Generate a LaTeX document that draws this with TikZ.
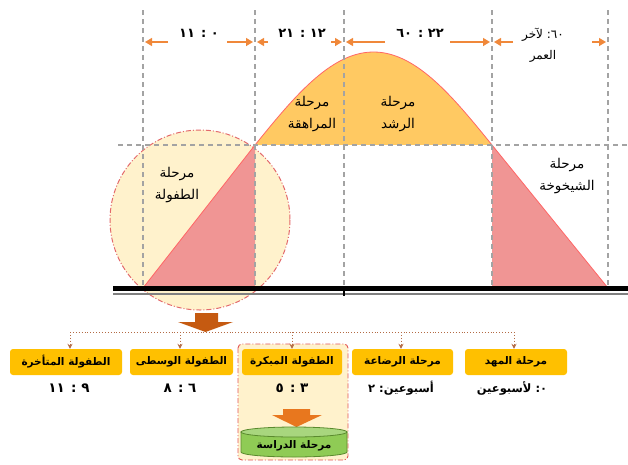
\documentclass[tikz,border=0pt]{standalone}
\usepackage{fontspec}
\TeXXeTstate=1
\newfontfamily\ar[Script=Arabic]{DejaVu Sans}
\usetikzlibrary{arrows.meta}
\definecolor{cream}{HTML}{FFF2CC}
\definecolor{circred}{HTML}{E36A6C}
\definecolor{pinkf}{HTML}{F09594}
\definecolor{yell}{HTML}{FFC962}
\definecolor{curvered}{HTML}{FF6666}
\definecolor{dgrey}{HTML}{A3A3A3}
\definecolor{oarrc}{HTML}{F0883A}
\definecolor{boxy}{HTML}{FFC000}
\definecolor{brownd}{HTML}{B36B45}
\definecolor{bigarr}{HTML}{C55A11}
\definecolor{smallarr}{HTML}{E8771E}
\definecolor{framered}{HTML}{E25555}
\definecolor{cylg}{HTML}{8FCB55}
\definecolor{cyltop}{HTML}{A8D67E}
\definecolor{cylb}{HTML}{5A8A2E}
\tikzset{
  gdash/.style={draw=dgrey,line width=1.3pt,dash pattern=on 5pt off 4pt},
  oarr/.style={draw=oarrc,line width=1.4pt,-{Triangle[length=7pt,width=8pt]}},
  toplab/.style={font=\ar\bfseries\fontsize{13}{15}\selectfont,inner sep=1pt},
  stagelab/.style={font=\ar\fontsize{13.5}{22}\selectfont,align=center,inner sep=0pt},
  ybox/.style={fill=boxy,rounded corners=3pt,minimum height=26pt,inner sep=0pt,
    font=\ar\bfseries\fontsize{10.5}{12}\selectfont},
  agelab/.style={font=\ar\bfseries\fontsize{13.5}{15}\selectfont,inner sep=0pt},
  agelabw/.style={font=\ar\bfseries\fontsize{11.5}{14}\selectfont,inner sep=0pt},
  dotc/.style={draw=brownd,line width=0.9pt,dotted},
  dotarr/.style={draw=brownd,line width=0.9pt,dotted,-{Stealth[length=5pt,width=5pt,fill=brownd]}},
}
\begin{document}
\begin{tikzpicture}[x=1pt,y=-1pt]
\useasboundingbox (0,0) rectangle (628,464);
% circle
\draw[fill=cream,draw=circred,line width=1pt,dash pattern=on 5pt off 2pt on 1pt off 2pt] (200,220) circle (90);
% pink regions
\fill[pinkf] (143,288) -- (255,145) -- (255,288) -- cycle;
\fill[pinkf] (492,145) -- (608,288) -- (492,288) -- cycle;
% yellow hump
\fill[yell] plot[domain=0:1,samples=80] ({255+237*\x},{145-93*sin(180*\x)}) -- cycle;
\draw[curvered,line width=0.8pt] (143,288) -- (255,145) plot[domain=0:1,samples=80] ({255+237*\x},{145-93*sin(180*\x)}) -- (608,288);
% dashed guides
\coordinate (v1t) at (143,10); \coordinate (v1b) at (143,288);
\coordinate (v2t) at (255,10); \coordinate (v2b) at (255,288);
\coordinate (v3t) at (344,10); \coordinate (v3b) at (344,288);
\coordinate (v4t) at (492,10); \coordinate (v4b) at (492,288);
\coordinate (v5t) at (608,10); \coordinate (v5b) at (608,288);
\coordinate (hl) at (118,145); \coordinate (hr) at (628,145);
\foreach \i in {1,...,5} {\draw[gdash] (v\i t) -- (v\i b);}
\draw[gdash] (hl) -- (hr);
% baseline
\coordinate (bl) at (113,288.5); \coordinate (br) at (628,288.5);
\coordinate (gl) at (113,294); \coordinate (gr) at (628,294);
\draw[black,line width=4.5pt] (bl) -- (br);
\draw[gray,line width=1.2pt] (gl) -- (gr);
\coordinate (tk1) at (344,290); \coordinate (tk2) at (344,296);
\draw[black,line width=2pt] (tk1) -- (tk2);
% stage labels
\node[stagelab] (sT) at (177,185) {\beginR مرحلة\endR\\\beginR الطفولة\endR};
\node[stagelab] (sM) at (312,114) {\beginR مرحلة\endR\\\beginR المراهقة\endR};
\node[stagelab] (sR) at (398,114) {\beginR مرحلة\endR\\\beginR الرشد\endR};
\node[stagelab] (sS) at (567,176) {\beginR مرحلة\endR\\\beginR الشيخوخة\endR};
% top range labels
\node[toplab] (t1) at (199,33) {\beginR ٠ : ١١\endR};
\node[toplab] (t2) at (302,33) {\beginR ١٢ : ٢١\endR};
\node[toplab] (t3) at (420,33) {\beginR ٢٢ : ٦٠\endR};
\node[font=\ar\fontsize{12}{21}\selectfont,align=center,inner sep=0pt] (t4) at (543,45)
  {\beginR\hbox{٦٠}\hbox{:} لآخر\endR\\\beginR العمر\endR};
\coordinate (a1l) at (168,42); \coordinate (a1le) at (145,42);
\coordinate (a1r) at (227,42); \coordinate (a1re) at (253,42);
\coordinate (a2l) at (268,42); \coordinate (a2le) at (257,42);
\coordinate (a2r) at (331,42); \coordinate (a2re) at (342,42);
\coordinate (a3l) at (385,42); \coordinate (a3le) at (346,42);
\coordinate (a3r) at (450,42); \coordinate (a3re) at (490,42);
\coordinate (a4l) at (513,42); \coordinate (a4le) at (494,42);
\coordinate (a4r) at (592,42); \coordinate (a4re) at (606,42);
\foreach \i in {1,...,4} {\draw[oarr] (a\i l) -- (a\i le); \draw[oarr] (a\i r) -- (a\i re);}
% big arrow under circle
\fill[bigarr] (195,313) -- (218,313) -- (218,322) -- (233,322) -- (205.5,332) -- (178,322) -- (195,322) -- cycle;
% frame around early childhood
\draw[fill=cream,draw=framered,line width=0.9pt,rounded corners=4pt,dash pattern=on 5pt off 2pt on 1pt off 2pt] (238,344) rectangle (348,460);
% boxes
\node[ybox,minimum width=112pt] (b1) at (66,362) {\beginR الطفولة المتأخرة\endR};
\node[ybox,minimum width=103pt] (b2) at (181.5,362) {\beginR الطفولة الوسطى\endR};
\node[ybox,minimum width=100pt] (b3) at (292,362) {\beginR الطفولة المبكرة\endR};
\node[ybox,minimum width=101pt] (b4) at (402.5,362) {\beginR مرحلة الرضاعة\endR};
\node[ybox,minimum width=102pt] (b5) at (516,362) {\beginR مرحلة المهد\endR};
% dotted distribution
\coordinate (d1) at (70,332); \coordinate (d2) at (180,332); \coordinate (d3) at (292,332);
\coordinate (d4) at (401,332); \coordinate (d5) at (514,332);
\draw[dotc] (d1) -- (d5);
\draw[dotarr] (d1) -- (d1 |- b1.north);
\draw[dotarr] (d2) -- (d2 |- b2.north);
\draw[dotarr] (d3) -- (d3 |- b3.north);
\draw[dotarr] (d4) -- (d4 |- b4.north);
\draw[dotarr] (d5) -- (d5 |- b5.north);
% ages
\node[agelab] (g1) at (69,388) {\beginR ٩ : ١١\endR};
\node[agelab] (g2) at (180,388) {\beginR ٦ : ٨\endR};
\node[agelab] (g3) at (292,388) {\beginR ٣ : ٥\endR};
\node[agelabw] (g4) at (401,388) {\beginR\hbox{\beginR أسبوعين\endR}\hbox{:} \hbox{٢}\endR};
\node[agelabw] (g5) at (512,388) {\beginR\hbox{٠}\hbox{:} لأسبوعين\endR};
% small arrow
\fill[smallarr] (283,409) -- (310,409) -- (310,415) -- (322,415) -- (296.5,427) -- (272,415) -- (283,415) -- cycle;
% cylinder
\path[fill=cylg,draw=cylb,line width=0.8pt] (241,432) -- (241,452) arc[start angle=180,end angle=0,x radius=53,y radius=5] -- (347,432) -- cycle;
\draw[fill=cyltop,draw=cylb,line width=0.8pt] (294,432) ellipse [x radius=53, y radius=5];
\node[font=\ar\bfseries\fontsize{10.5}{12}\selectfont,inner sep=0pt] (cyl) at (294,446) {\beginR مرحلة الدراسة\endR};
\end{tikzpicture}
\end{document}
